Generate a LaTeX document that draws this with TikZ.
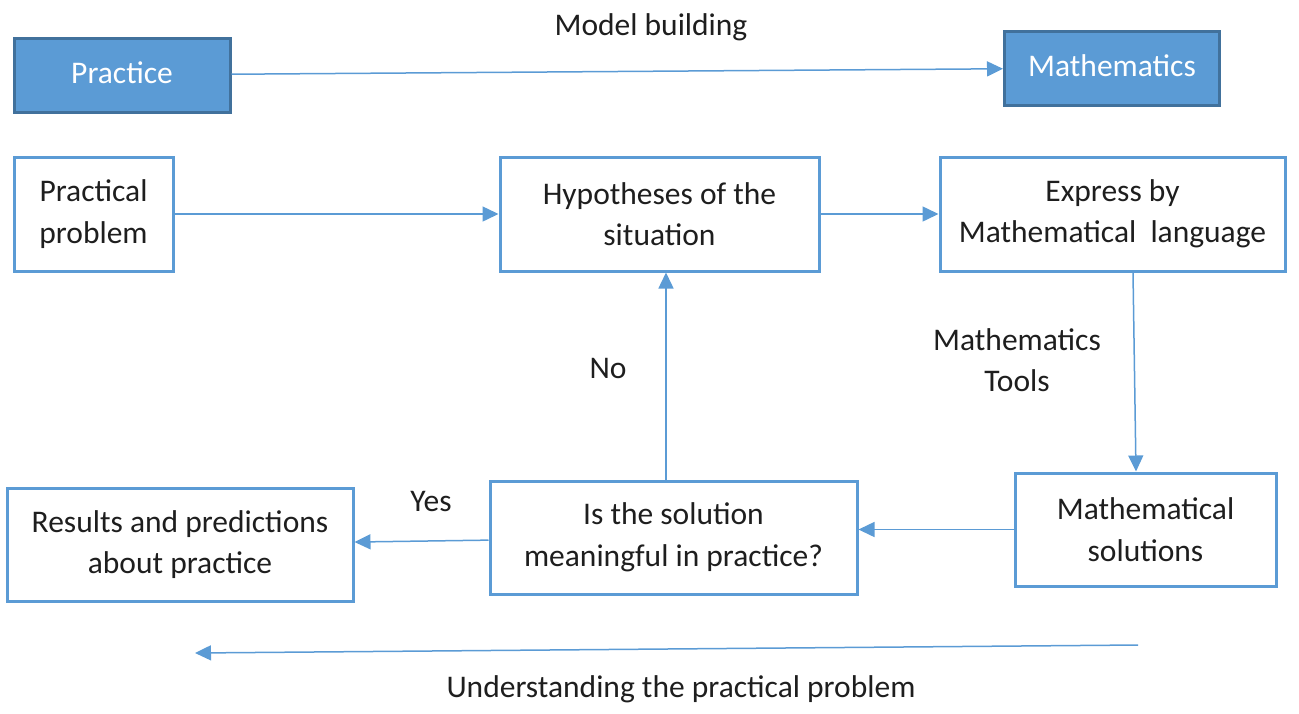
\documentclass[tikz,border=0pt]{standalone}
\usepackage{fontspec}
\setmainfont{Carlito}
\usetikzlibrary{arrows.meta,positioning}
\definecolor{boxblue}{RGB}{91,155,213}
\definecolor{edgeblue}{RGB}{65,113,156}
\definecolor{inkgray}{RGB}{30,30,30}

\begin{document}
\begin{tikzpicture}[x=1pt,y=-1pt,font=\fontsize{31.5}{41.5}\selectfont,text=inkgray,
    >={Triangle[length=16pt,width=15pt]},
    box/.style={draw=boxblue,line width=3pt,align=center,inner sep=0pt},
    head/.style={draw=edgeblue,fill=boxblue,line width=3pt,text=white,align=center,inner sep=0pt},
    link/.style={->,draw=boxblue,line width=1.5pt}]
  \useasboundingbox (0,0) rectangle (1299,713);
  % top row
  \node[head,minimum width=216,minimum height=74,text depth=4pt] (prac) at (122,75) {Practice};
  \node[head,minimum width=215,minimum height=74,text depth=4pt] (math) at (1112,68) {Mathematics};
  \node (build) at (651,27) {Model building};
  \draw[link] (prac) -- (math);
  % middle row
  \node[box,minimum width=159,minimum height=114] (prob) at (93.5,214) {Practical\\problem};
  \node[box,minimum width=319,minimum height=114] (hyp) at (659.5,214) {Hypotheses of the\\situation};
  \node[box,minimum width=345,minimum height=114] (expr) at (1112.5,214) {Express by\\Mathematical\ \ language};
  \draw[link] (prob) -- (hyp);
  \draw[link] (hyp) -- (expr);
  % bottom row
  \node[box,minimum width=261,minimum height=113] (sol) at (1145.5,529.5) {Mathematical\\solutions};
  \node[box,minimum width=367,minimum height=113] (mean) at (673.5,537.5) {Is the solution\\meaningful in practice?};
  \node[box,minimum width=346,minimum height=113] (res) at (180,544.5) {Results and predictions\\about practice};
  \draw[link] (expr.south -| 1133,0) -- (sol.north -| 1136,0);
  \node[align=center] (tools) at (1017,360) {Mathematics\\Tools};
  \draw[link] (sol) -- (mean.east |- sol);
  \draw[link] (mean) -- (res);
  \node (yes) at (431,502) {Yes};
  \draw[link] (mean.north -| 666,0) -- (hyp.south -| 666,0);
  \node (no) at (608,368) {No};
  % understanding arrow
  \coordinate (ustart) at (1138,645);
  \coordinate (uend) at (195,653);
  \draw[link] (ustart) -- (uend);
  \node (under) at (681,689) {Understanding the practical problem};
\end{tikzpicture}
\end{document}
